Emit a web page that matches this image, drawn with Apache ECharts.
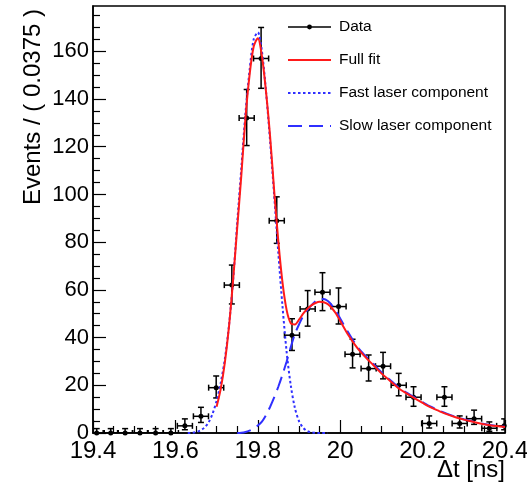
<!DOCTYPE html>
<html><head><meta charset="utf-8">
<script src="https://cdn.jsdelivr.net/npm/echarts@6/dist/echarts.min.js"></script>
<style>html,body{margin:0;padding:0;background:#fff}#c{width:527px;height:490px}</style>
</head><body><div id="c"></div>
<script>
// ---- data ----
const binCenters = [19.409,19.443,19.478,19.514,19.552,19.589,19.623,19.662,19.699,19.737,19.773,19.808,19.846,19.883,19.921,19.957,19.996,20.030,20.069,20.104,20.142,20.178,20.216,20.253,20.290,20.325,20.362,20.398];
const counts = [0,0,0,0,0,0,3,7,19,62,132,157,89,41,52,59,53,33,27,28,20,15,4,15,4,6,2,3];
const errLow = [0,0,0,0,0,0,1.37,4.42,14.7,54.1,120.5,144.5,79.5,34.6,44.8,51.3,45.7,27.3,21.8,22.7,15.6,11.2,2.09,11.2,2.09,3.62,0.71,1.37];
const errHigh = [1.84,1.84,1.84,1.84,1.84,1.84,5.92,10.77,23.9,70.4,144.0,170.0,99.0,47.9,59.7,67.2,60.8,39.3,32.7,33.8,25.0,19.4,7.16,19.4,7.16,9.58,4.64,5.92];

const fullFitX = [19.70,19.71,19.72,19.73,19.74,19.75,19.76,19.77,19.78,19.79,19.80,19.81,19.82,19.83,19.84,19.85,19.86,19.87,19.88,19.89,19.90,19.91,19.92,19.93,19.94,19.95,19.96,19.97,19.98,19.99,20.00,20.02,20.04,20.06,20.08,20.10,20.12,20.14,20.16,20.18,20.20,20.22,20.24,20.26,20.28,20.30,20.32,20.34,20.36,20.38,20.40];
const fullFitY = [11,18.5,29.5,44.5,64,86,108,132,150,162,165.5,158,143,124,101,80,63,51.5,46,45.5,47.5,50,52,53.5,54.5,55,54.8,54,52.3,50,47,41,36,32,28.5,25,22,19,16.7,14.6,12.6,10.7,9.2,7.8,6.6,5.6,4.8,4.0,3.4,2.9,2.5];

const fastX = [19.63,19.64,19.65,19.66,19.67,19.68,19.69,19.70,19.71,19.72,19.73,19.74,19.75,19.76,19.77,19.78,19.79,19.80,19.81,19.82,19.83,19.84,19.85,19.86,19.87,19.88,19.89,19.90,19.91,19.92,19.93,19.94,19.95,19.97];
const fastY = [0,0.1,0.4,1.0,2.2,4.3,8.0,13.5,21,31,45,64,88,111,134,152,165,168,160,143,122,99,75,53,34,20,10.5,5,2.2,0.8,0.25,0.05,0,0];

const slowX = [19.75,19.76,19.77,19.78,19.79,19.80,19.81,19.82,19.83,19.84,19.85,19.86,19.87,19.88,19.89,19.90,19.91,19.92,19.93,19.94,19.95,19.96,19.97,19.98,19.99,20.00,20.02,20.04,20.06,20.08,20.10,20.12,20.14,20.16,20.18,20.20,20.22,20.24,20.26,20.28,20.30,20.32,20.34,20.36,20.38,20.40];
const slowY = [0,0.1,0.4,1.0,1.9,3.1,4.8,7.5,11,15,19.5,24.5,30,36,41.5,45.5,49,51.5,53.5,55.2,56.2,56.2,55.3,53.5,51,48,42,36.5,32.5,29,25.5,22.4,19.4,17,14.9,12.9,11,9.4,8,6.8,5.8,4.9,4.1,3.5,3.0,2.6];

const xTicks = [19.4,19.6,19.8,20,20.2,20.4];
const yTicks = [0,20,40,60,80,100,120,140,160];

const seriesNames = ['Data','Full fit','Fast laser component','Slow laser component'];
const xTitle = '\u0394t [ns]';
const yTitle = 'Events / ( 0.0375 )';

// ---- chart ----
const binHalf = 0.0183;
const FONT = 'Liberation Sans, Arial, Helvetica, sans-serif';
const pts = binCenters.map((x, i) => [x, counts[i], errLow[i], errHigh[i]]);
const pairs = (xs, ys) => xs.map((x, i) => [x, ys[i]]);

const chart = echarts.init(document.getElementById('c'), null, {renderer: 'canvas'});
chart.setOption({
  animation: false,
  backgroundColor: '#fff',
  grid: {left: 93, right: 22, top: 6, bottom: 57, show: true, borderColor: '#000', borderWidth: 1.5,
         backgroundColor: 'transparent', containLabel: false, outerBoundsMode: 'none'},
  legend: {
    orient: 'vertical', left: 282, top: 14, itemWidth: 43, itemHeight: 6, itemGap: 17,
    textStyle: {fontFamily: FONT, fontSize: 15.5, color: '#000', padding: [0, 0, 0, 3]},
    selectedMode: false,
    data: [
      {name: seriesNames[0], lineStyle: {width: 1.5, color: '#000'}},
      {name: seriesNames[1], itemStyle: {opacity: 0}},
      {name: seriesNames[2], itemStyle: {opacity: 0}},
      {name: seriesNames[3], itemStyle: {opacity: 0}}
    ]
  },
  xAxis: {
    type: 'value', min: 19.4, max: 20.4, interval: 0.2,
    name: xTitle, nameLocation: 'end', nameGap: 0, nameMoveOverlap: false,
    nameTextStyle: {fontFamily: FONT, fontSize: 24, color: '#000', align: 'right', verticalAlign: 'top', padding: [25, 0, 0, 0]},
    axisLine: {show: true, onZero: false, lineStyle: {color: '#000', width: 1.5}},
    axisTick: {show: true, inside: true, length: 13, lineStyle: {color: '#000', width: 1.2}, customValues: xTicks},
    minorTick: {show: true, splitNumber: 4, length: 7, lineStyle: {color: '#000', width: 1.2}},
    axisLabel: {fontFamily: FONT, fontSize: 24, color: '#000', margin: 6, customValues: xTicks,
                formatter: v => String(Math.round(v * 10) / 10)},
    splitLine: {show: false}
  },
  yAxis: {
    type: 'value', min: 0, max: 179, interval: 20,
    name: yTitle, nameLocation: 'end', nameGap: -3, nameRotate: 90, nameMoveOverlap: false,
    nameTextStyle: {fontFamily: FONT, fontSize: 24, color: '#000', align: 'right', verticalAlign: 'bottom', padding: [0, 0, 48, 0]},
    axisLine: {show: true, onZero: false, lineStyle: {color: '#000', width: 1.5}},
    axisTick: {show: true, inside: true, length: 13, lineStyle: {color: '#000', width: 1.2}, customValues: yTicks},
    minorTick: {show: true, splitNumber: 4, length: 7, lineStyle: {color: '#000', width: 1.2}},
    axisLabel: {fontFamily: FONT, fontSize: 22, color: '#000', margin: 4, customValues: yTicks},
    splitLine: {show: false}
  },
  series: [
    {
      type: 'custom', name: 'errors', clip: true, z: 2, silent: true,
      data: pts,
      renderItem: function (params, api) {
        const x = api.value(0), y = api.value(1), lo = api.value(2), hi = api.value(3);
        const pLo = api.coord([x, lo]), pHi = api.coord([x, hi]);
        const pL = api.coord([x - binHalf, y]), pR = api.coord([x + binHalf, y]);
        const cap = 3;
        const st = {stroke: '#000', lineWidth: 1.5, fill: null};
        const ln = (x1, y1, x2, y2) => ({type: 'line', shape: {x1, y1, x2, y2}, style: st});
        return {type: 'group', children: [
          ln(pLo[0], pLo[1], pHi[0], pHi[1]),
          ln(pLo[0] - cap, pLo[1], pLo[0] + cap, pLo[1]),
          ln(pHi[0] - cap, pHi[1], pHi[0] + cap, pHi[1]),
          ln(pL[0], pL[1], pR[0], pR[1]),
          ln(pL[0], pL[1] - cap, pL[0], pL[1] + cap),
          ln(pR[0], pR[1] - cap, pR[0], pR[1] + cap)
        ]};
      }
    },
    {
      type: 'line', name: seriesNames[0], z: 3, silent: true,
      data: pairs(binCenters, counts),
      symbol: 'circle', symbolSize: 5, showSymbol: true,
      itemStyle: {color: '#000'},
      lineStyle: {width: 0, color: '#000'}
    },
    {
      type: 'line', name: seriesNames[3], z: 4, silent: true,
      data: pairs(slowX, slowY), smooth: 0.3, showSymbol: false, symbol: 'none',
      itemStyle: {color: '#2f2fff'},
      lineStyle: {color: '#2f2fff', width: 2, type: [14, 7]}
    },
    {
      type: 'line', name: seriesNames[2], z: 4, silent: true,
      data: pairs(fastX, fastY), smooth: 0.3, showSymbol: false, symbol: 'none',
      itemStyle: {color: '#2f2fff'},
      lineStyle: {color: '#2f2fff', width: 2, type: [2.5, 2.5]}
    },
    {
      type: 'line', name: seriesNames[1], z: 5, silent: true,
      data: pairs(fullFitX, fullFitY), smooth: 0.3, showSymbol: false, symbol: 'none',
      itemStyle: {color: '#ff1a1a'},
      lineStyle: {color: '#ff1a1a', width: 2}
    }
  ]
});
</script>
</body></html>
